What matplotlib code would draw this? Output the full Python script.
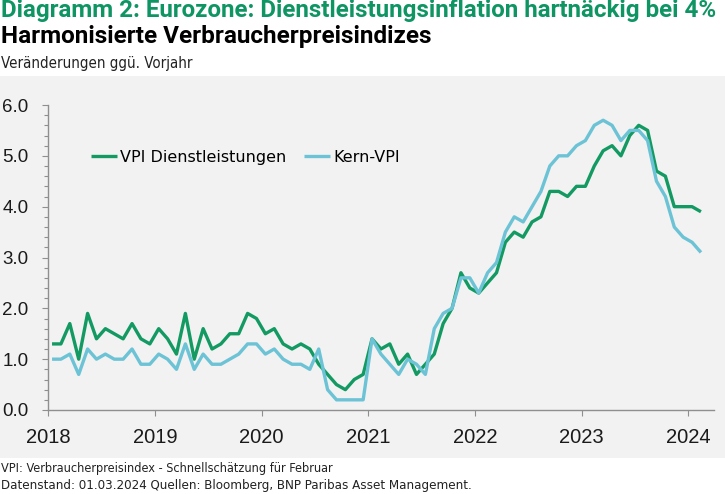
import numpy as np
import pandas as pd
import matplotlib
matplotlib.use("Agg")
import matplotlib.pyplot as plt
from matplotlib import font_manager as fm
from matplotlib.patches import Rectangle
from matplotlib.ticker import MultipleLocator, FixedLocator

# ---------------- data ----------------
months = pd.period_range("2018-01", "2024-02", freq="M")

services = [
    1.3, 1.3, 1.7, 1.0, 1.9, 1.4, 1.6, 1.5, 1.4, 1.7, 1.4, 1.3,   # 2018
    1.6, 1.4, 1.1, 1.9, 1.0, 1.6, 1.2, 1.3, 1.5, 1.5, 1.9, 1.8,   # 2019
    1.5, 1.6, 1.3, 1.2, 1.3, 1.2, 0.9, 0.7, 0.5, 0.4, 0.6, 0.7,   # 2020
    1.4, 1.2, 1.3, 0.9, 1.1, 0.7, 0.9, 1.1, 1.7, 2.0, 2.7, 2.4,   # 2021
    2.3, 2.5, 2.7, 3.3, 3.5, 3.4, 3.7, 3.8, 4.3, 4.3, 4.2, 4.4,   # 2022
    4.4, 4.8, 5.1, 5.2, 5.0, 5.4, 5.6, 5.5, 4.7, 4.6, 4.0, 4.0,   # 2023
    4.0, 3.9,                                                     # 2024
]
core = [
    1.0, 1.0, 1.1, 0.7, 1.2, 1.0, 1.1, 1.0, 1.0, 1.2, 0.9, 0.9,   # 2018
    1.1, 1.0, 0.8, 1.3, 0.8, 1.1, 0.9, 0.9, 1.0, 1.1, 1.3, 1.3,   # 2019
    1.1, 1.2, 1.0, 0.9, 0.9, 0.8, 1.2, 0.4, 0.2, 0.2, 0.2, 0.2,   # 2020
    1.4, 1.1, 0.9, 0.7, 1.0, 0.9, 0.7, 1.6, 1.9, 2.0, 2.6, 2.6,   # 2021
    2.3, 2.7, 2.9, 3.5, 3.8, 3.7, 4.0, 4.3, 4.8, 5.0, 5.0, 5.2,   # 2022
    5.3, 5.6, 5.7, 5.6, 5.3, 5.5, 5.5, 5.3, 4.5, 4.2, 3.6, 3.4,   # 2023
    3.3, 3.1,                                                     # 2024
]
series_labels = ["VPI Dienstleistungen", "Kern-VPI"]
year_ticks = [2018, 2019, 2020, 2021, 2022, 2023, 2024]
y_ticks = [0, 1, 2, 3, 4, 5, 6]

title1 = "Diagramm 2: Eurozone: Dienstleistungsinflation hartnäckig bei 4%"
title2 = "Harmonisierte Verbraucherpreisindizes"
title3 = "Veränderungen ggü. Vorjahr"
foot1 = "VPI: Verbraucherpreisindex - Schnellschätzung für Februar"
foot2 = "Datenstand: 01.03.2024 Quellen: Bloomberg, BNP Paribas Asset Management."

# ---------------- styling ----------------
GREEN = "#139a62"
BLUE = "#6cc3d5"
TITLE_GREEN = "#0f9563"
BG = "#f2f2f2"
AXC = "#8f8f8f"

W, H = 725, 494
fig = plt.figure(figsize=(W / 100, H / 100), dpi=100)
fig.patch.set_facecolor("white")

# grey panel
fig.patches.append(Rectangle((0, 1 - 458 / H), 1, (458 - 76) / H,
                             transform=fig.transFigure, facecolor=BG,
                             edgecolor="none", zorder=-10))

ttf = fm.fontManager.ttflist
names = {f.name for f in ttf}
reg_kw = {"family": "Roboto"}
if "Liberation Sans Narrow" in names:
    reg_kw = {"family": "Liberation Sans Narrow"}
elif any(f.name == "DejaVu Sans" and f.stretch == "condensed" for f in ttf):
    reg_kw = {"family": "DejaVu Sans", "stretch": "condensed"}
bold_kw = {"family": "Roboto" if "Roboto" in names else "DejaVu Sans"}

TICK_FONT = "Liberation Sans" if "Liberation Sans" in names else "DejaVu Sans"

x0, x1 = 48.3, 714.0
yb, yt = 410.0, 105.0
ax = fig.add_axes([x0 / W, 1 - yb / H, (x1 - x0) / W, (yb - yt) / H])
ax.set_facecolor("none")
ax.set_zorder(2)

xs = np.array([p.year + (p.month - 1 + 0.42) / 12 for p in months])

ax.plot(xs, services, color=GREEN, lw=2.4, label=series_labels[0],
        solid_capstyle="butt", solid_joinstyle="round", zorder=3)
ax.plot(xs, core, color=BLUE, lw=2.4, label=series_labels[1],
        solid_capstyle="butt", solid_joinstyle="round", zorder=4)

ax.set_xlim(2018, 2018 + (x1 - x0) / 106.67)
ax.set_ylim(0, 6)

for s in ["top", "right"]:
    ax.spines[s].set_visible(False)
for s in ["left", "bottom"]:
    ax.spines[s].set_color(AXC)
    ax.spines[s].set_linewidth(1.0)

ax.xaxis.set_major_locator(FixedLocator(year_ticks))
ax.set_xticklabels([str(y) for y in year_ticks], fontsize=14.5,
                   family=TICK_FONT, color="#1a1a1a")
ax.yaxis.set_major_locator(FixedLocator(y_ticks))
ax.set_yticklabels([f"{v:.1f}" for v in y_ticks], fontsize=13.5,
                   family=TICK_FONT, color="#1a1a1a")
ax.yaxis.set_minor_locator(MultipleLocator(0.2))
ax.tick_params(axis="x", which="major", length=4.3, width=0.8, color=AXC,
               direction="out", pad=8.5)
ax.tick_params(axis="y", which="major", length=4.6, width=0.8, color=AXC,
               direction="out", pad=9.5)
ax.tick_params(axis="y", which="minor", length=3.0, width=0.8, color=AXC,
               direction="out")

leg = ax.legend(loc="center left", bbox_to_anchor=(0.0641, 0.8285), ncol=2,
                frameon=False, borderpad=0, borderaxespad=0,
                handlelength=1.63, handletextpad=0.2, columnspacing=1.1,
                prop={"family": "DejaVu Sans", "size": 11.5})
for lh in leg.get_lines():
    lh.set_linewidth(2.4)

# ---------------- header / footer ----------------
def add_text(s, xpx, baseline_px, target_w, color, weight="normal", kw=None):
    kw = kw or reg_kw
    t = fig.text(xpx / W, 1 - baseline_px / H, s, ha="left", va="baseline",
                 color=color, weight=weight, fontsize=12, **kw)
    r = fig.canvas.get_renderer()
    w = t.get_window_extent(renderer=r).width
    t.set_fontsize(12 * target_w / w)
    return t

add_text(title1, 1, 16.7, 716, TITLE_GREEN, "bold", bold_kw)
add_text(title2, 1, 42.7, 428, "#000000", "bold", bold_kw)
add_text(title3, 1, 68.3, 192, "#222222")
add_text(foot1, 1, 472, 332, "#222222")
add_text(foot2, 1, 489, 467, "#222222")

fig.savefig("out.png", dpi=100, facecolor="white")
